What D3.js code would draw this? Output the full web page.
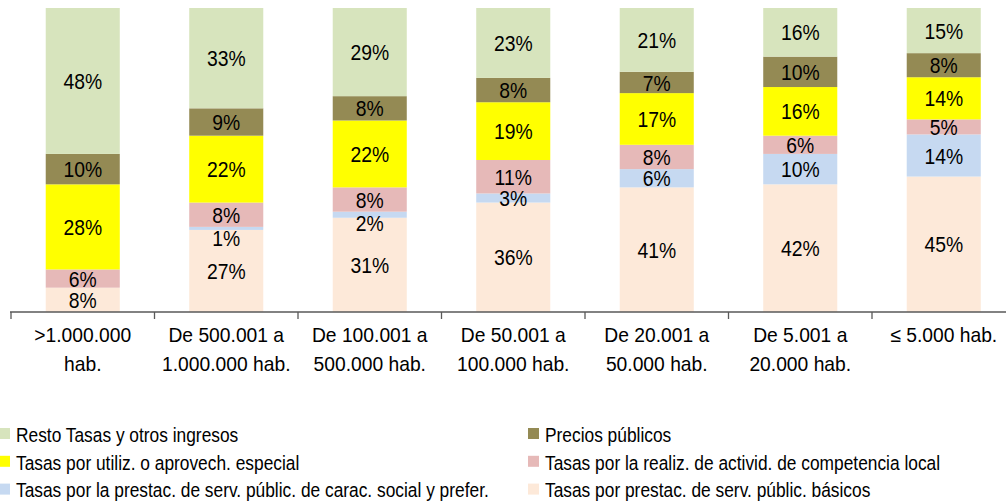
<!DOCTYPE html>
<html>
<head>
<meta charset="utf-8">
<script src="https://cdn.jsdelivr.net/npm/d3@7"></script>
<style>
  body { margin: 0; background: #fff; }
  text { font-family: "Liberation Sans", Arial, sans-serif; fill: #000; }
</style>
</head>
<body>
<script>
// categories (two-line labels)
var categories = [
  [">1.000.000", "hab."],
  ["De 500.001 a", "1.000.000 hab."],
  ["De 100.001 a", "500.000 hab."],
  ["De 50.001 a", "100.000 hab."],
  ["De 20.001 a", "50.000 hab."],
  ["De 5.001 a", "20.000 hab."],
  ["\u2264 5.000 hab."]
];

// series, bottom to top of each stack
var basicos  = [8, 27, 31, 36, 41, 42, 45];
var social   = [0, 1, 2, 3, 6, 10, 14];
var realiz   = [6, 8, 8, 11, 8, 6, 5];
var utiliz   = [28, 22, 22, 19, 17, 16, 14];
var precios  = [10, 9, 8, 8, 7, 10, 8];
var resto    = [48, 33, 29, 23, 21, 16, 15];

var seriesNames = [
  "Tasas por prestac. de serv. públic. básicos",
  "Tasas por la prestac. de serv. públic. de carac. social y prefer.",
  "Tasas por la realiz. de activid. de competencia local",
  "Tasas por utiliz. o aprovech. especial",
  "Precios públicos",
  "Resto Tasas y otros ingresos"
];
var seriesValues = [basicos, social, realiz, utiliz, precios, resto];
var colors = ["#FDE9D9", "#C6D9F1", "#E6B9B8", "#FFFF00", "#948A54", "#D7E4BD"];

// legend order (row by row, two columns)
var legendOrder = [5, 4, 3, 2, 1, 0];

var svgWidth = 1006;
var svgHeight = 504;

var svg = d3.select("body")
  .append("svg")
  .attr("width", svgWidth)
  .attr("height", svgHeight);

// text that is a bit narrower than the plain font, like the original
function narrowText(x, y, size, sx, anchor) {
  return svg.append("g")
    .attr("transform", `translate(${x},${y}) scale(${sx},1)`)
    .append("text")
    .attr("text-anchor", anchor || "start")
    .style("font-size", size + "px");
}

// build rows for d3.stack
var keys = seriesNames;
var rows = categories.map(function(c, i) {
  var r = { cat: c.join(" ") };
  keys.forEach(function(k, j) { r[k] = seriesValues[j][i]; });
  return r;
});

var stack = d3.stack().keys(keys).offset(d3.stackOffsetExpand);
var stacked = stack(rows);

var xBand = d3.scaleBand()
  .domain(rows.map(d => d.cat))
  .range([11, 11 + 143.5 * categories.length]);

var barWidth = xBand.bandwidth() * 0.516;

var yScale = d3.scaleLinear()
  .domain([0, 1])
  .range([312, 8]);

// bars
var groups = svg.selectAll(".series")
  .data(stacked)
  .enter()
  .append("g")
  .attr("class", "series")
  .attr("fill", (d, i) => colors[i]);

groups.selectAll("rect")
  .data(d => d)
  .enter()
  .append("rect")
  .attr("x", d => xBand(d.data.cat) + (xBand.bandwidth() - barWidth) / 2)
  .attr("y", d => yScale(d[1]))
  .attr("width", barWidth)
  .attr("height", d => yScale(d[0]) - yScale(d[1]));

// data labels: centred in segment, pushed down when they crowd the one above
rows.forEach(function(row, ci) {
  var labels = [];
  for (var s = stacked.length - 1; s >= 0; s--) {
    var seg = stacked[s][ci];
    var v = seriesValues[s][ci];
    if (v === 0) continue;
    labels.push({ v: v, y: (yScale(seg[0]) + yScale(seg[1])) / 2 });
  }
  for (var k = 1; k < labels.length; k++) {
    if (labels[k].y - labels[k - 1].y < 20) labels[k].y = labels[k - 1].y + 23;
  }
  labels.forEach(function(l) {
    narrowText(xBand(row.cat) + xBand.bandwidth() / 2, l.y, 22.5, 0.86, "middle")
      .attr("dy", "0.36em")
      .text(l.v + "%");
  });
});

// x axis
var axisG = svg.append("g");
axisG.append("line")
  .attr("x1", 10).attr("x2", svgWidth)
  .attr("y1", 312).attr("y2", 312)
  .attr("stroke", "#595959").attr("stroke-width", 1.3);

axisG.selectAll(".tick")
  .data(rows)
  .enter()
  .append("line")
  .attr("x1", d => xBand(d.cat)).attr("x2", d => xBand(d.cat))
  .attr("y1", 312).attr("y2", 319)
  .attr("stroke", "#595959").attr("stroke-width", 1.3);

categories.forEach(function(c, i) {
  c.forEach(function(line, j) {
    narrowText(xBand(rows[i].cat) + xBand.bandwidth() / 2, 342 + j * 29.4, 20.5, 0.94, "middle")
      .text(line);
  });
});

// legend
legendOrder.forEach(function(s, i) {
  var col = i % 2;
  var row = Math.floor(i / 2);
  var lx = col === 0 ? -1 : 528;
  var ly = 428 + row * 27.8;
  svg.append("rect")
    .attr("x", lx).attr("y", ly)
    .attr("width", 11).attr("height", 11)
    .attr("fill", colors[s]);
  narrowText(lx + 17, ly + 13.8, 19.5, 0.89)
    .text(seriesNames[s]);
});
</script>
</body>
</html>
